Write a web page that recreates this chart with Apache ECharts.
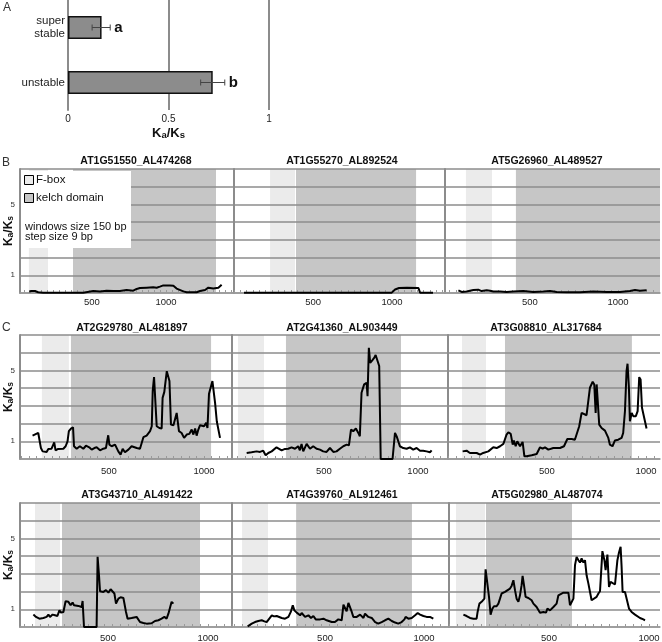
<!DOCTYPE html>
<html><head><meta charset="utf-8">
<script src="https://cdn.jsdelivr.net/npm/echarts@6/dist/echarts.min.js"></script>
<style>html,body{margin:0;padding:0;background:#fff}#c{width:662px;height:642px}</style>
</head><body><div id="c"></div>
<script>
const FONT = 'Liberation Sans, Arial, Helvetica, sans-serif';

// ---- Panel A data ----
const barCategories = ['super\nstable', 'unstable'];
const barValues = [0.167, 0.72];
const barErrLow = [0.12, 0.66];
const barErrHigh = [0.21, 0.78];
const barLetters = ['a', 'b'];

// ---- Panels B and C ----
const panelTitles = ['AT1G51550_AL474268', 'AT1G55270_AL892524', 'AT5G26960_AL489527',
  'AT2G29780_AL481897', 'AT2G41360_AL903449', 'AT3G08810_AL317684',
  'AT3G43710_AL491422', 'AT4G39760_AL912461', 'AT5G02980_AL487074'];
const fboxRanges = [[74,203],[228,386],[136,284],[147,289],[43,181],[71,192],[135,260],[81,212],[35,180]];
const kelchRanges = [[372,1338],[392,1152],[420,1239],[300,1037],[298,910],[288,929],[270,960],[354,939],[185,615]];
const xRanges = [[14,1446],[-13,1335],[17,1239],[32,1147],[11,1144],[-15,1071],[60,1120],[30,1106],[-20,1055]];
const xTickLabels = [500, 1000];
const yTickLabels = [1, 5];
const legendLabels = ['F-box', 'kelch domain'];
const noteLines = ['windows size 150 bp', 'step size 9 bp'];

const s_AT1G51550 = [[76,0.09],[92,0.11],[115,0.11],[137,0.04],[170,0.02],[300,0.02],[441,0.02],[453,0.11],[509,0.11],[554,0.08],[599,0.13],[644,0.11],[655,0.19],[689,0.11],[734,0.17],[779,0.13],[802,0.23],[824,0.28],[869,0.3],[914,0.32],[926,0.43],[937,0.3],[959,0.36],[982,0.43],[1027,0.43],[1038,0.32],[1050,0.41],[1072,0.25],[1117,0.09],[1140,0.04],[1207,0.04],[1230,0.11],[1264,0.17],[1286,0.3],[1297,0.21],[1320,0.26],[1354,0.3],[1376,0.47]];
const s_AT1G55270 = [[63,0.02],[300,0.02],[600,0.02],[998,0.02],[1008,0.11],[1019,0.2],[1029,0.15],[1044,0.28],[1093,0.3],[1167,0.28],[1177,0.02],[1259,0.02]];
const s_AT5G26960 = [[93,0.15],[112,0.06],[140,0.09],[178,0.17],[206,0.19],[225,0.11],[254,0.15],[273,0.13],[292,0.08],[330,0.09],[367,0.06],[405,0.08],[462,0.11],[519,0.06],[576,0.08],[614,0.11],[652,0.06],[708,0.04],[784,0.04],[860,0.08],[936,0.06],[1011,0.06],[1068,0.11],[1097,0.17],[1125,0.13],[1163,0.15]];
const s_AT2G29780 = [[98,1.32],[128,1.47],[133,1.49],[142,0.62],[151,0.43],[172,0.40],[181,0.57],[198,0.58],[212,0.94],[219,0.49],[233,0.57],[260,0.58],[272,0.72],[282,1.0],[289,1.57],[300,1.72],[311,1.79],[316,0.72],[330,0.58],[347,0.72],[365,0.58],[379,0.75],[396,0.66],[409,0.53],[423,0.62],[435,0.66],[453,0.49],[470,0.58],[484,0.62],[496,1.34],[502,0.81],[514,0.72],[532,0.81],[549,0.43],[561,0.25],[572,0.57],[584,0.38],[602,0.53],[619,0.72],[646,0.62],[663,0.58],[681,1.23],[698,1.32],[716,1.57],[725,1.85],[730,3.83],[737,4.62],[746,4.55],[751,1.85],[765,1.75],[777,1.72],[782,3.45],[791,3.79],[804,4.96],[812,4.92],[818,4.4],[826,1.94],[839,1.91],[847,1.98],[856,2.6],[861,2.51],[868,1.57],[882,1.47],[895,1.19],[909,1.38],[923,1.42],[935,1.66],[944,1.38],[953,1.72],[961,1.32],[970,1.66],[979,1.91],[988,1.98],[1000,1.85],[1011,2.04],[1018,1.75],[1026,3.68],[1035,3.74],[1044,4.4],[1049,4.3],[1058,3.17],[1067,2.13],[1075,2.09],[1084,1.19]];
const s_AT2G41360 = [[89,0.34],[115,0.38],[142,0.43],[160,0.40],[177,0.47],[190,0.21],[204,0.34],[222,0.43],[248,0.66],[257,0.58],[275,0.49],[293,0.57],[310,0.58],[328,0.66],[346,0.58],[363,0.72],[372,0.49],[381,0.85],[390,0.43],[408,0.85],[426,0.58],[443,0.72],[461,0.58],[479,0.53],[496,0.43],[514,0.40],[532,0.62],[550,0.40],[567,0.43],[585,0.58],[603,0.72],[621,0.81],[633,0.77],[644,1.66],[656,1.57],[670,1.72],[683,1.47],[691,1.28],[700,3.74],[714,4.21],[727,4.3],[732,3.55],[739,6.28],[746,5.43],[757,5.57],[768,5.72],[775,5.87],[785,5.91],[794,5.25],[802,0],[865,0],[878,1.47],[887,1.28],[895,1.23],[904,0.72],[922,0.62],[940,0.58],[957,0.66],[975,0.53],[993,0.62],[1011,0.47],[1028,0.47],[1046,0.43],[1064,0.38],[1073,0.49]];
const s_AT3G08810 = [[74,0.43],[94,0.47],[111,0.34],[145,0.34],[162,0.25],[178,0.34],[204,0.43],[229,0.66],[246,0.62],[263,0.72],[280,0.85],[296,1.38],[305,1.51],[317,1.42],[327,0.81],[333,1.04],[342,0.72],[350,1.0],[364,0.72],[377,0.96],[386,0.15],[397,0.15],[423,0.21],[448,0.28],[465,0.66],[478,0.58],[490,0.66],[507,0.53],[532,0.62],[566,0.62],[586,0.72],[603,1.13],[625,1.13],[641,1.09],[650,1.0],[663,1.85],[675,2.6],[684,2.51],[700,2.47],[710,2.51],[717,4.02],[731,4.36],[739,4.21],[746,2.6],[751,4.21],[756,3.36],[764,1.94],[776,1.75],[793,1.6],[810,1.19],[818,0.81],[831,0.72],[843,1.04],[860,1.09],[877,1.19],[885,1.47],[894,2.7],[902,4.96],[907,5.38],[914,4.02],[919,2.13],[928,2.6],[936,2.42],[949,2.42],[958,2.7],[966,4.62],[973,4.49],[980,2.89],[990,2.79],[995,2.13],[1003,1.72]];
const s_AT3G43710 = [[127,0.7],[140,0.57],[157,0.47],[177,0.51],[193,0.57],[202,0.7],[210,0.57],[223,0.7],[235,0.66],[247,0.62],[257,0.94],[265,0.81],[277,0.85],[288,1.45],[302,1.42],[313,1.23],[323,1.38],[330,1.23],[340,1.34],[352,1.19],[360,1.26],[368,1.13],[373,1.47],[380,0],[443,0],[448,3.96],[455,2.92],[460,2.02],[477,1.98],[490,2.08],[502,1.94],[513,2.13],[523,2.17],[532,1.89],[540,1.32],[552,1.6],[563,1.68],[577,1.64],[590,0.85],[598,0.47],[618,0.51],[643,0.57],[660,0.28],[677,0.23],[693,0.19],[718,0.21],[735,0.34],[752,0.38],[768,0.47],[782,0.57],[793,0.47],[802,0.75],[810,0.85],[818,1.42],[827,1.32]];
const s_AT4G39760 = [[109,0.04],[130,0.19],[146,0.28],[163,0.34],[172,0.43],[180,0.38],[194,0.32],[205,0.28],[214,0.36],[231,0.66],[242,0.6],[256,0.62],[264,0.57],[281,0.51],[298,0.47],[315,0.57],[327,0.85],[337,1.23],[345,0.94],[357,0.81],[365,0.85],[374,0.66],[382,0.79],[399,0.57],[416,0.66],[429,0.51],[441,0.62],[453,0.43],[475,0.43],[492,0.47],[508,0.38],[517,0.47],[534,0.28],[550,0.28],[567,0.43],[584,0.38],[593,1.26],[601,1.32],[609,0.89],[618,1.36],[626,1.32],[635,0.85],[643,0.57],[660,0.57],[677,0.7],[694,0.51],[702,0.75],[719,0.57],[736,0.51],[753,0.28],[769,0.19],[786,0.28],[803,0.38],[820,0.47],[837,0.34],[854,0.25],[870,0.19],[887,0.28],[901,0.43],[907,0.57],[921,0.47],[938,0.51],[955,0.66],[968,0.79],[980,0.7],[997,0.62],[1013,0.57],[1030,0.57],[1047,0.47]];
const s_AT5G02980 = [[72,0.7],[88,0.62],[105,0.51],[122,0.47],[138,0.47],[143,0.85],[152,1.32],[163,1.42],[172,1.32],[177,1.6],[183,3.26],[193,3.25],[200,1.7],[208,0.7],[217,1.04],[225,1.17],[238,1.17],[247,1.32],[255,1.6],[263,1.89],[272,1.79],[280,1.98],[288,2.08],[305,2.17],[313,2.32],[322,2.64],[330,2.08],[338,1.6],[347,1.42],[355,1.79],[363,2.36],[368,2.89],[375,2.36],[383,1.7],[397,1.64],[413,1.51],[422,1.32],[438,1.13],[447,1.19],[455,0.81],[472,0.85],[485,0.81],[492,1.04],[505,0.94],[522,1.13],[538,1.32],[547,1.79],[555,1.89],[572,1.94],[597,1.94],[605,1.23],[613,1.23],[622,1.6],[630,3.49],[638,3.96],[647,3.77],[655,3.64],[663,3.87],[672,3.64],[680,3.77],[688,2.92],[697,2.45],[713,1.51],[722,1.45],[738,1.7],[747,1.89],[755,2.02],[767,4.28],[777,3.77],[783,3.21],[792,4.09],[800,2.26],[808,2.55],[817,2.58],[830,2.4],[842,3.77],[850,4.21],[858,4.53],[863,3.4],[868,1.98],[880,1.98],[888,1.98],[900,1.04],[908,0.94],[913,0.85],[922,0.75],[930,0.7],[938,0.62],[955,0.51],[972,0.43],[980,0.38]];

const panelSeries = [s_AT1G51550, s_AT1G55270, s_AT5G26960, s_AT2G29780, s_AT2G41360, s_AT3G08810, s_AT3G43710, s_AT4G39760, s_AT5G02980];

// ---- layout ----
const colX = [[20,212],[232,213],[445,215]];
const rowTop = [169, 335, 503];
const rowLabelMargin = [4, 7, 6];
const titleCenters = [[136,161],[342,161],[547,161],[132,328],[342,328],[546,328],[137,495],[342,495],[547,495]];
const GRID_GRAY = '#8c8c8c';
const FBOX_COLOR = '#ebebeb';
const KELCH_COLOR = '#c6c6c6';

const kaksRich = {
  k: {fontFamily: FONT, fontSize: 12, fontWeight: 'bold', color: '#111'},
  s: {fontFamily: FONT, fontSize: 8.5, fontWeight: 'bold', color: '#111', verticalAlign: 'bottom', lineHeight: 4}
};
const kaksName = '{k|K}{s|a}{k|/K}{s|s}';

function tickValues(min, max, step) {
  const out = [];
  for (let v = Math.ceil(min / step) * step; v <= max; v += step) out.push(v);
  return out;
}

const grids = [{left: 68, top: 0, width: 201, height: 110, containLabel: false, outerBoundsMode: 'none'}];
const xAxes = [{
  gridIndex: 0, type: 'value', min: 0, max: 1, interval: 0.5,
  axisLine: {show: false}, axisTick: {show: false},
  splitLine: {show: true, lineStyle: {color: GRID_GRAY, width: 2}},
  axisLabel: {fontFamily: FONT, fontSize: 10, color: '#222', margin: 4, formatter: v => String(v)},
  name: kaksName, nameLocation: 'middle', nameGap: 17, nameMoveOverlap: false,
  nameTextStyle: {rich: {
    k: {fontFamily: FONT, fontSize: 13, fontWeight: 'bold', color: '#111'},
    s: {fontFamily: FONT, fontSize: 9.5, fontWeight: 'bold', color: '#111', verticalAlign: 'bottom', lineHeight: 5}
  }}
}];
const yAxes = [{
  gridIndex: 0, type: 'category', inverse: true, data: barCategories,
  axisLine: {show: true, lineStyle: {color: GRID_GRAY, width: 2}},
  axisTick: {show: false},
  axisLabel: {fontFamily: FONT, fontSize: 11.5, color: '#222', margin: 3, lineHeight: 13}
}];
const series = [
  {type: 'bar', xAxisIndex: 0, yAxisIndex: 0, data: barValues, barWidth: 23,
   itemStyle: {color: '#8c8c8c', borderColor: '#111', borderWidth: 1.5}, z: 3, animation: false},
  {type: 'custom', xAxisIndex: 0, yAxisIndex: 0, z: 4, animation: false,
   data: barValues.map((v, i) => [barErrLow[i], barErrHigh[i], i]),
   encode: {x: [0, 1], y: 2},
   renderItem: function (params, api) {
     const lo = api.coord([api.value(0), api.value(2)]);
     const hi = api.coord([api.value(1), api.value(2)]);
     const y = lo[1];
     const st = {stroke: '#444', lineWidth: 1};
     return {type: 'group', children: [
       {type: 'line', shape: {x1: lo[0], y1: y, x2: hi[0], y2: y}, style: st},
       {type: 'line', shape: {x1: lo[0], y1: y - 3, x2: lo[0], y2: y + 3}, style: st},
       {type: 'line', shape: {x1: hi[0], y1: y - 3, x2: hi[0], y2: y + 3}, style: st},
       {type: 'text', x: hi[0] + 4, y: y, style: {text: barLetters[params.dataIndex], font: 'bold 15px ' + FONT,
         fill: '#111', align: 'left', verticalAlign: 'middle', textAlign: 'left', textVerticalAlign: 'middle'}}
     ]};
   }}
];

panelTitles.forEach((t, i) => {
  const row = Math.floor(i / 3), col = i % 3;
  const gi = i + 1;
  grids.push({left: colX[col][0], top: rowTop[row], width: colX[col][1], height: 124, containLabel: false, outerBoundsMode: 'none'});
  xAxes.push({
    gridIndex: gi, type: 'value', min: xRanges[i][0], max: xRanges[i][1], z: 2,
    axisLine: {show: true, onZero: false, lineStyle: {color: '#9a9a9a', width: 1.5}},
    axisTick: {show: true, inside: true, length: 3, customValues: tickValues(xRanges[i][0], xRanges[i][1], 40),
      lineStyle: {color: '#9a9a9a', width: 1}},
    axisLabel: {customValues: xTickLabels, fontFamily: FONT, fontSize: 9.5, color: '#222', margin: rowLabelMargin[row],
      formatter: v => String(v)},
    splitLine: {show: false}
  });
  const yAx = {
    gridIndex: gi, type: 'value', min: 0, max: 7, interval: 1, z: 2,
    axisLine: {show: true, lineStyle: {color: GRID_GRAY, width: 2}},
    axisTick: {show: false},
    splitLine: {show: true, lineStyle: {color: GRID_GRAY, width: 1.5}},
    axisLabel: {show: col === 0, fontFamily: FONT, fontSize: 8, color: '#333', margin: 5,
      formatter: v => yTickLabels.indexOf(v) >= 0 ? String(v) : ''}
  };
  if (col === 0) {
    Object.assign(yAx, {name: kaksName, nameLocation: 'middle', nameRotate: 90, nameGap: 5, nameMoveOverlap: false,
      nameTextStyle: {rich: kaksRich}});
  }
  yAxes.push(yAx);
  // shaded domains
  series.push({
    type: 'custom', xAxisIndex: gi, yAxisIndex: gi, z: 1, silent: true, animation: false,
    data: [[fboxRanges[i][0], fboxRanges[i][1], 0], [kelchRanges[i][0], kelchRanges[i][1], 1]],
    renderItem: function (params, api) {
      const p0 = api.coord([api.value(0), 7]);
      const p1 = api.coord([api.value(1), 0]);
      const cs = params.coordSys;
      const x0 = Math.max(p0[0], cs.x), x1 = Math.min(p1[0], cs.x + cs.width);
      return {type: 'rect', shape: {x: x0, y: p0[1], width: x1 - x0, height: p1[1] - p0[1]},
        style: {fill: api.value(2) === 0 ? FBOX_COLOR : KELCH_COLOR}};
    }
  });
  series.push({
    type: 'line', xAxisIndex: gi, yAxisIndex: gi, data: panelSeries[i], z: 5,
    showSymbol: false, symbol: 'none', animation: false, clip: true,
    lineStyle: {color: '#000', width: 2}
  });
});

const graphics = [
  {type: 'text', x: 3, y: 8, style: {text: 'A', font: '12px ' + FONT, fill: '#333', verticalAlign: 'middle', textVerticalAlign: 'middle'}},
  {type: 'text', x: 2, y: 163, style: {text: 'B', font: '12px ' + FONT, fill: '#333', verticalAlign: 'middle', textVerticalAlign: 'middle'}},
  {type: 'text', x: 2, y: 328, style: {text: 'C', font: '12px ' + FONT, fill: '#333', verticalAlign: 'middle', textVerticalAlign: 'middle'}},
  // legend box
  {type: 'rect', z: 100, shape: {x: 21, y: 171, width: 110, height: 77}, style: {fill: '#fff'}},
  {type: 'rect', z: 101, shape: {x: 24.5, y: 175.5, width: 9, height: 9}, style: {fill: FBOX_COLOR, stroke: '#000', lineWidth: 1}},
  {type: 'rect', z: 101, shape: {x: 24.5, y: 193.5, width: 9, height: 9}, style: {fill: KELCH_COLOR, stroke: '#000', lineWidth: 1}},
  {type: 'text', z: 101, x: 36, y: 180, style: {text: legendLabels[0], font: '11.5px ' + FONT, fill: '#111', verticalAlign: 'middle', textVerticalAlign: 'middle'}},
  {type: 'text', z: 101, x: 36, y: 198, style: {text: legendLabels[1], font: '11.5px ' + FONT, fill: '#111', verticalAlign: 'middle', textVerticalAlign: 'middle'}},
  {type: 'text', z: 101, x: 25, y: 226.5, style: {text: noteLines[0], font: '11px ' + FONT, fill: '#111', verticalAlign: 'middle', textVerticalAlign: 'middle'}},
  {type: 'text', z: 101, x: 25, y: 236.5, style: {text: noteLines[1], font: '11px ' + FONT, fill: '#111', verticalAlign: 'middle', textVerticalAlign: 'middle'}}
];
panelTitles.forEach((t, i) => {
  graphics.push({type: 'text', z: 50, x: titleCenters[i][0], y: titleCenters[i][1],
    style: {text: t, font: 'bold 10.5px ' + FONT, fill: '#111', align: 'center', verticalAlign: 'middle',
      textAlign: 'center', textVerticalAlign: 'middle'}});
});

const chart = echarts.init(document.getElementById('c'), null, {renderer: 'canvas'});
chart.setOption({
  animation: false,
  backgroundColor: '#fff',
  grid: grids, xAxis: xAxes, yAxis: yAxes, series: series, graphic: graphics
});
</script></body></html>
